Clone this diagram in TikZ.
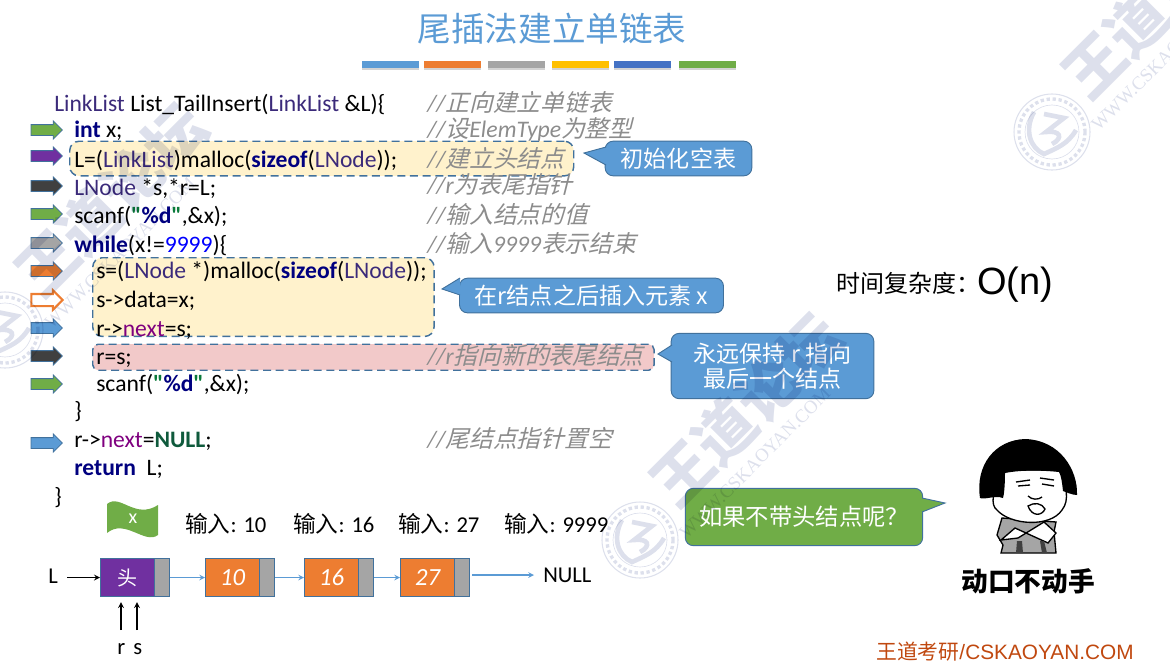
\documentclass[tikz,border=0pt]{standalone}
\usepackage{fontspec}
\usetikzlibrary{shapes.arrows,shadows}
\setmainfont{Carlito}
\newfontfamily\codefont{Carlito}
\newfontfamily\cjkfont{Noto Sans CJK SC}
\newfontfamily\cjkslant[FakeSlant=0.25]{Noto Sans CJK SC}
\newfontfamily\arialfont{Liberation Sans}
\newfontfamily\markfont{Liberation Serif}
\newcommand{\zh}[1]{{\cjkfont #1}}
\newcommand{\zhit}[1]{{\cjkslant #1}}
\definecolor{tblue}{HTML}{5B9BD5}
\definecolor{torange}{HTML}{ED7D31}
\definecolor{tgrey}{HTML}{A5A5A5}
\definecolor{tgold}{HTML}{FFC000}
\definecolor{tdeep}{HTML}{4472C4}
\definecolor{tgreen}{HTML}{70AD47}
\definecolor{tpurple}{HTML}{7030A0}
\definecolor{tdark}{HTML}{404040}
\definecolor{edgeblue}{HTML}{41719C}
\definecolor{kwblue}{HTML}{00007F}
\definecolor{tyblue}{HTML}{3B2A7A}
\definecolor{memcol}{HTML}{7F007F}
\definecolor{nullcol}{HTML}{0F5A3C}
\definecolor{strcol}{HTML}{0A7A3A}
\definecolor{cmtcol}{HTML}{8C8C8C}
\definecolor{markcol}{HTML}{DDE0EC}
\definecolor{brandcol}{HTML}{C0480F}
\definecolor{hiyellow}{HTML}{FFF2CC}
\definecolor{hired}{HTML}{F2C9C9}
\newcommand{\kw}[1]{\textbf{\textcolor{kwblue}{#1}}}
\newcommand{\ty}[1]{\textcolor{tyblue}{#1}}
\newcommand{\mem}[1]{\textcolor{memcol}{#1}}
\newcommand{\strq}{{\codefont\bfseries\textcolor{strcol}{"}\textcolor{kwblue}{\%d}\textcolor{strcol}{"}}}
\tikzset{
  codeline/.style={anchor=base west,inner sep=0pt,font=\fontsize{17.7pt}{19pt}\selectfont},
  cmtline/.style={anchor=base west,inner sep=0pt,text=cmtcol,font=\fontsize{17.8pt}{19pt}\selectfont\itshape},
  flowarrow/.style={shape=single arrow,draw=edgeblue,line width=.6pt,fill=#1,inner sep=0pt,minimum height=23.5pt,text height=7.5pt,text depth=0pt,text width=0pt,single arrow head extend=2.8pt},
  hilite/.style={draw=edgeblue,line width=1.1pt,dash pattern=on 6pt off 3.5pt,rounded corners=7pt,inner sep=0pt,anchor=north west,fill=#1},
  tipbox/.style={shape=rectangle,draw=edgeblue,line width=.7pt,fill=#1,text=white,rounded corners=6pt,align=center,inner sep=0pt,font=\fontsize{17.3pt}{19pt}\cjkfont},
  tiptip/.style={draw=edgeblue,line width=.7pt,fill=#1},
  datacell/.style={draw=edgeblue,line width=.8pt,fill=#1,anchor=west,inner sep=0pt,minimum width=40.5pt,minimum height=29pt,text=white},
  linkcell/.style={draw=edgeblue,line width=.8pt,fill=tgrey,anchor=west,inner sep=0pt,minimum width=11.2pt,minimum height=29pt},
  inlabel/.style={anchor=base west,inner sep=0pt,font=\fontsize{17pt}{18pt}\selectfont},
  linkline/.style={draw=tblue,line width=.9pt,-stealth},
  blackline/.style={draw=black,line width=1pt,-stealth},
  titlebar/.style={fill=#1,minimum width=42.7pt,minimum height=5pt,inner sep=0pt,drop shadow={shadow xshift=0pt,shadow yshift=-1.6pt,opacity=.35}}
}
\begin{document}
\begin{tikzpicture}[x=0.75pt,y=-0.75pt]
    \useasboundingbox (0,0) rectangle (1170,665);
    \node[font=\fontsize{25.2pt}{28pt}\cjkfont,text=tblue] (heading) at (552,29) {尾插法建立单链表};
    \foreach \bx/\bc [count=\i] in {390.5/tblue,452.5/torange,516.5/tgrey,580.5/tgold,642.5/tdeep,707.5/tgreen} {
        \node[titlebar=\bc] (bar\i) at (\bx,64.5) {};
    }
    \node[hilite=hiyellow,minimum width=378pt,minimum height=26pt] (boxinit) at (69,140.5) {};
    \node[hilite=hiyellow,minimum width=256pt,minimum height=59pt] (boxinsert) at (92,257) {};
    \node[hilite=hired,minimum width=421pt,minimum height=19.5pt,rounded corners=4pt] (boxtail) at (92,343.5) {};
    \foreach \ay/\ac [count=\i] in {130/tgreen,156/tpurple,186/tdark,214/tgreen,243/tgrey,271/torange,328/tblue,356/tdark,384/tgreen,443/tblue} {
        \node[flowarrow=\ac] (arrow\i) at (44,\ay) {};
    }
    \node[flowarrow=white,draw=torange,line width=1.6pt] (arrowhollow) at (44,300) {};
    \node[codeline] (code1) at (54,111) {\ty{LinkList} List\_TailInsert(\ty{LinkList} \&L)\{};
    \node[codeline] (code2) at (74,137) {\kw{int} x;};
    \node[codeline] (code3) at (74,167) {L=(\ty{LinkList})malloc(\kw{sizeof}(\ty{LNode}));};
    \node[codeline] (code4) at (74,195) {\ty{LNode} *s,*r=L;};
    \node[codeline] (code5) at (74,223) {scanf(\strq,\&x);};
    \node[codeline] (code6) at (74,252) {\kw{while}(x!=\textcolor{blue}{9999})\{};
    \node[codeline] (code7) at (96,278) {s=(\ty{LNode} *)malloc(\kw{sizeof}(\ty{LNode}));};
    \node[codeline] (code8) at (96,307) {s->data=x;};
    \node[codeline] (code9) at (96,336) {r->\mem{next}=s;};
    \node[codeline] (code10) at (96,364) {r=s;};
    \node[codeline] (code11) at (96,391) {scanf(\strq,\&x);};
    \node[codeline] (code12) at (74,418) {\}};
    \node[codeline] (code13) at (74,447) {r->\mem{next}=\textbf{\textcolor{nullcol}{NULL}};};
    \node[codeline] (code14) at (74,475) {\kw{return} ~L;};
    \node[codeline] (code15) at (54,504) {\}};
    \node[cmtline] (note1) at (427,111) {//\zhit{正向建立单链表}};
    \node[cmtline] (note2) at (427,137) {//\zhit{设}ElemType\zhit{为整型}};
    \node[cmtline] (note3) at (427,167) {//\zhit{建立头结点}};
    \node[cmtline] (note4) at (427,193) {//r\zhit{为表尾指针}};
    \node[cmtline] (note5) at (427,223) {//\zhit{输入结点的值}};
    \node[cmtline] (note6) at (427,252) {//\zhit{输入}9999\zhit{表示结束}};
    \node[cmtline] (note7) at (427,364) {//r\zhit{指向新的表尾结点}};
    \node[cmtline] (note8) at (427,447) {//\zhit{尾结点指针置空}};
    \node[tipbox=tblue,minimum width=110pt,minimum height=26pt] (tipinit) at (678.5,158.5) {初始化空表};
    \draw[tiptip=tblue] (606,147) -- (584,153) -- (606,165);
    \node[tipbox=tblue,minimum width=198pt,minimum height=26pt] (tipinsert) at (591.5,295.5) {在r结点之后插入元素 x};
    \draw[tiptip=tblue] (460,278) -- (442,289) -- (460,295);
    \node[tipbox=tblue,minimum width=152pt,minimum height=49pt] (tiptail) at (772.5,366) {永远保持 r 指向\\最后一个结点};
    \draw[tiptip=tblue] (672,345) -- (658,354) -- (672,362);
    \node[tipbox=tgreen,minimum width=178pt,minimum height=43pt,font=\fontsize{17.5pt}{19pt}\cjkfont] (tipask) at (804,517) {如果不带头结点呢？};
    \draw[tiptip=tgreen] (922,498) -- (945,503) -- (922,512);
    \node[anchor=base west,inner sep=0pt,font=\fontsize{18pt}{20pt}\cjkfont] (costlabel) at (836,292) {时间复杂度：};
    \node[anchor=base west,inner sep=0pt,font=\fontsize{28.5pt}{32pt}\arialfont] (costvalue) at (977,294) {O(n)};
    \fill[tgreen] (107,504) .. controls (120,493) and (135,520) .. (158,505) -- (158,535) .. controls (145,545) and (125,518) .. (107,533) -- cycle;
    \node[text=white,font=\fontsize{15pt}{16pt}\selectfont] (flagx) at (133,519) {x};
    \node[inlabel] (input1) at (185,532) {\zh{输入}: 10};
    \node[inlabel] (input2) at (293,532) {\zh{输入}: 16};
    \node[inlabel] (input3) at (398,532) {\zh{输入}: 27};
    \node[inlabel] (input4) at (504,532) {\zh{输入}: 9999};
    \node[datacell=tpurple,font=\fontsize{15pt}{16pt}\cjkfont] (headcell) at (100,577.5) {头};
    \node[linkcell] (headlink) at (154,577.5) {};
    \foreach \cx/\cv/\cn in {205/10/one,304/16/two,400/27/three} {
        \node[datacell=torange,font=\fontsize{18.5pt}{19pt}\itshape] (cell\cn) at (\cx,577.5) {\cv};
        \node[linkcell] (link\cn) at (\cx+54,577.5) {};
    }
    \draw[linkline] (headlink.east) -- (cellone.west);
    \draw[linkline] (linkone.east) -- (celltwo.west);
    \draw[linkline] (linktwo.east) -- (cellthree.west);
    \node[inlabel] (nullend) at (543,582) {NULL};
    \coordinate (nullstart) at (472,575);
    \coordinate (nulltip) at (534,575);
    \draw[linkline] (nullstart) -- (nulltip);
    \node[inlabel] (listname) at (48,583) {L};
    \draw[blackline] (67,577.5) -- (headcell.west);
    \node[inlabel] (rname) at (117,654) {r};
    \node[inlabel] (sname) at (133,654) {s};
    \coordinate (rtip) at (121,602);
    \coordinate (stip) at (137,602);
    \draw[blackline] (121,630) -- (rtip);
    \draw[blackline] (137,630) -- (stip);
    \begin{scope}
        \draw[black,line width=1pt,fill=tgrey] (1002,518) -- (997,535) -- (1003,545) -- (1001,553) -- (1056,553) -- (1054,532) -- (1056,522) -- cycle;
        \draw[black,line width=1pt,fill=white] (1001,540) -- (1015,528) -- (1048,543) -- (1056,533) -- (1044,522) -- (1018,538) -- cycle;
        \fill[tdark] (1017,541) -- (1022,541) -- (1023,553) -- (1016,553) -- cycle;
        \fill[tdark] (1040,541) -- (1044,541) -- (1047,553) -- (1042,553) -- cycle;
        \draw[black,line width=1pt,fill=white] (1005,470) .. controls (992,490) and (990,505) .. (997,510) .. controls (1010,525) and (1050,528) .. (1062,510) .. controls (1070,500) and (1066,485) .. (1060,470) -- cycle;
        \fill[black] (980,498) .. controls (975,465) and (995,440) .. (1025,439) .. controls (1060,440) and (1078,470) .. (1077,495) .. controls (1072,495) and (1066,492) .. (1063,491) .. controls (1062,482) and (1061,475) .. (1059,472) .. controls (1040,470) and (1020,470) .. (1005,473) .. controls (1005,485) and (1004,495) .. (1003,498) .. controls (995,495) and (985,500) .. (980,498) -- cycle;
        \draw[black,line width=1pt] (1016,482) -- (1030,480);
        \draw[black,line width=1pt] (1018,486) -- (1030,485);
        \draw[black,line width=1pt] (1040,478) -- (1054,480);
        \draw[black,line width=1pt] (1042,484) -- (1054,486);
        \draw[black,line width=1pt] (1028,496) .. controls (1032,500) and (1038,500) .. (1042,497);
        \draw[black,line width=1pt,fill=white] (1028,506) .. controls (1034,502) and (1042,503) .. (1045,509) .. controls (1042,516) and (1032,517) .. (1028,506) -- cycle;
    \end{scope}
    \node[font=\fontsize{20pt}{22pt}\cjkfont\bfseries] (memecap) at (1028,581) {动口不动手};
    \node[anchor=base west,inner sep=0pt,text=brandcol,font=\fontsize{15.6pt}{18pt}\arialfont] (brand) at (876,659.5) {\zh{王道考研}/CSKAOYAN.COM};
    \begin{scope}[blend mode=multiply]
        \foreach \wx/\wy/\wn in {0/0/a,-635/-210/b,412/-408/c} {
            \begin{scope}[shift={(\wx,\wy)}]
                \node[text=markcol,rotate=45,inner sep=0pt,font=\fontsize{45pt}{46pt}\cjkfont\bfseries] (mark\wn) at (746,410) {王道论坛};
                \node[text=markcol,rotate=45,inner sep=0pt,font=\fontsize{14pt}{15pt}\markfont] (site\wn) at (755,463) {WWW.CSKAOYAN.COM};
                \draw[markcol,line width=.8pt] (640,540) circle (38);
                \draw[markcol,line width=2.5pt,dotted] (640,540) circle (33);
                \draw[markcol,line width=.5pt] (640,540) circle (27);
                \draw[markcol,line width=3.5pt] (622,520) .. controls (612,538) and (618,556) .. (632,562) .. controls (645,556) and (656,552) .. (664,538);
                \draw[markcol,line width=3.5pt] (632,522) -- (652,526) -- (634,540) .. controls (648,538) and (652,546) .. (640,552);
            \end{scope}
        }
    \end{scope}
\end{tikzpicture}
\end{document}
